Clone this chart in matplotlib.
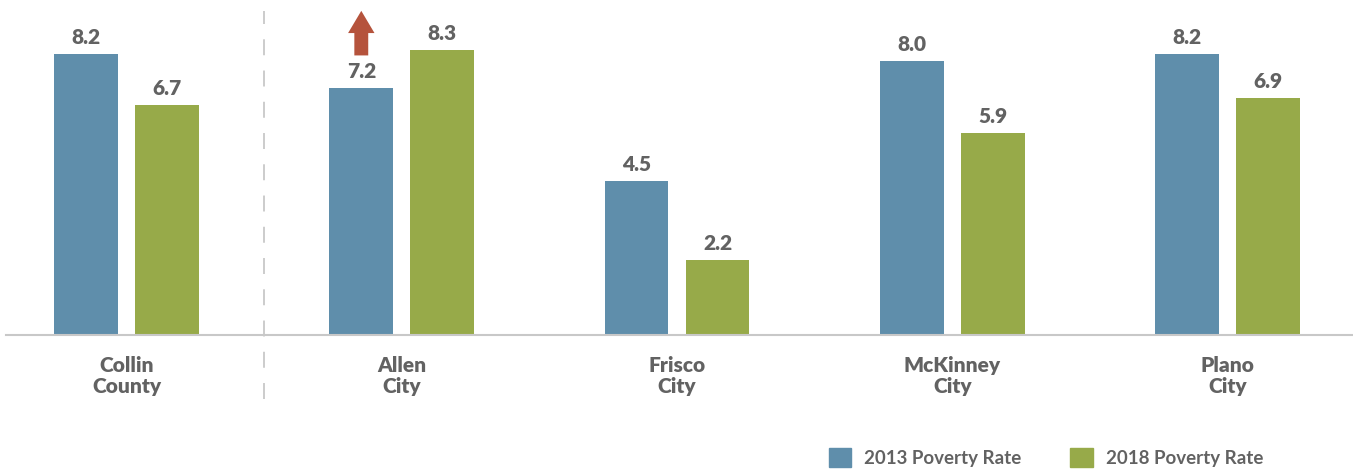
"""Poverty rate 2013 vs 2018 for Collin County and its cities."""

import matplotlib

matplotlib.use("Agg")
import matplotlib.pyplot as plt
from matplotlib.patches import Patch

categories = ["Collin\nCounty", "Allen\nCity", "Frisco\nCity", "McKinney\nCity", "Plano\nCity"]
rate_2013 = [8.2, 7.2, 4.5, 8.0, 8.2]
rate_2018 = [6.7, 8.3, 2.2, 5.9, 6.9]
series_names = ["2013 Poverty Rate", "2018 Poverty Rate"]

BLUE = "#5f8eab"
GREEN = "#97aa49"
TEXT = "#626262"
RULE = "#c8c8c8"
ARROW = "#b5533c"

plt.rcParams["font.family"] = ["Lato", "DejaVu Sans"]
plt.rcParams["lines.scale_dashes"] = False

fig = plt.figure(figsize=(13.53, 4.70), dpi=100)
ax = fig.add_axes([6 / 1353, 0.2872, 1347 / 1353, 0.6934])

x = list(range(len(categories)))
width = 0.232
offset = 0.147
bars_a = ax.bar([i - offset for i in x], rate_2013, width, color=BLUE)
bars_b = ax.bar([i + offset for i in x], rate_2018, width, color=GREEN)
for bars in (bars_a, bars_b):
    ax.bar_label(bars, fmt="%.1f", padding=5, fontsize=15, fontweight="heavy", color=TEXT)

# red arrow over Allen City 2013 bar (rate went up)
ax.annotate("", xy=(1 - offset, 9.45), xytext=(1 - offset, 8.15),
            arrowprops=dict(arrowstyle="simple,head_length=16,head_width=19,tail_width=10",
                            mutation_scale=1, color=ARROW, lw=0, shrinkA=0, shrinkB=0))

# dashed separator between county and cities
ax.plot([0.5, 0.5], [-1.87, 9.45], color=RULE, lw=1.3, linestyle=(0, (11.5, 11)),
        clip_on=False)

ax.set_xlim(-0.4378, 4.456)
ax.set_ylim(0, 9.5)
ax.set_xticks(x)
ax.set_xticklabels(categories, fontsize=15, fontweight="heavy", color=TEXT, linespacing=1.15)
ax.tick_params(axis="x", length=0, pad=15)
ax.set_yticks([])
for side in ("top", "left", "right"):
    ax.spines[side].set_visible(False)
ax.spines["bottom"].set_color(RULE)
ax.spines["bottom"].set_linewidth(1.5)

handles = [Patch(color=BLUE), Patch(color=GREEN)]
leg = fig.legend(handles, series_names, loc="lower left", bbox_to_anchor=(826 / 1353, 0.0),
                 ncol=2, frameon=False, fontsize=13.5, handlelength=1.2, handleheight=1.2,
                 handletextpad=0.7, columnspacing=2.6, borderpad=0, borderaxespad=0.15)
for t in leg.get_texts():
    t.set_color(TEXT)
    t.set_fontweight("bold")

fig.savefig("out.png", dpi=100)
